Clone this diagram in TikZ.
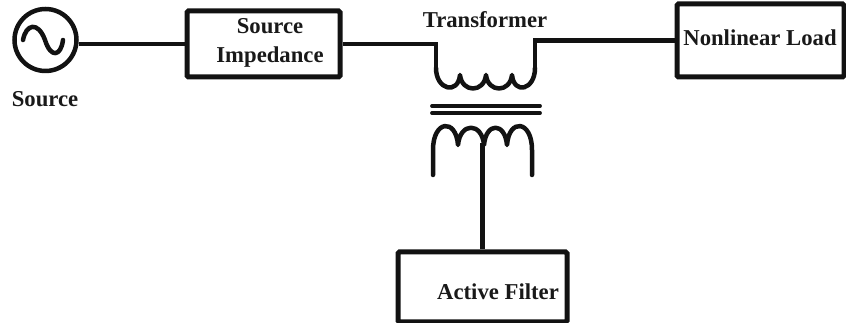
\documentclass[tikz,border=0pt]{standalone}
\usepackage{fontspec}
\setmainfont{Liberation Serif}
\usetikzlibrary{shapes,arrows}
\tikzset{
  wire/.style={line width=4.5pt,color=black!93},
  coil/.style={line width=4.5pt,color=black!93,line cap=round,line join=round},
  corebar/.style={line width=3.8pt,color=black!93,line cap=round},
  blockbox/.style={draw=black!93,line width=5pt,rounded corners=1.5pt,inner sep=0pt},
  labeltext/.style={font=\fontsize{22.7}{29}\selectfont\bfseries,color=black!90,inner sep=0pt,align=center}
}
\begin{document}
\begin{tikzpicture}
\useasboundingbox (0pt,0pt) rectangle (846pt,323pt);

% to draw blocks
\node [circle,draw=black!93,line width=4.5pt,inner sep=0pt,minimum size=62pt] (source) at (45.5pt,283pt) {};
\node [blockbox,minimum width=153pt,minimum height=66pt] (impedance) at (263.5pt,279pt) {};
\node [blockbox,minimum width=167pt,minimum height=73pt] (load) at (760.5pt,282.5pt) {};
\node [blockbox,minimum width=169pt,minimum height=70pt] (filter) at (482.5pt,36pt) {};

% to write labels
\node [labeltext] (sourcelabel) at (45pt,224pt) {Source};
\node [labeltext] (impedancelabel) at (270pt,280pt) {Source\\Impedance};
\node [labeltext] (transformerlabel) at (485pt,303pt) {Transformer};
\node [labeltext] (loadlabel) at (760pt,285pt) {Nonlinear Load};
\node [labeltext] (filterlabel) at (498pt,31pt) {Active Filter};

% to draw sine in source
\draw [coil] (23pt,283pt) .. controls (26pt,299pt) and (38pt,302pt) .. (45pt,283pt)
  .. controls (51pt,264pt) and (61pt,267pt) .. (63pt,283pt);

% transformer coil ends
\coordinate (priL) at (436pt,255pt);
\coordinate (priR) at (535pt,255pt);
\coordinate (secL) at (433pt,148pt);
\coordinate (secR) at (532pt,148pt);
\coordinate (secM) at (482.5pt,180pt);

% primary winding
\draw [coil] (priL) .. controls (436pt,233pt) and (458pt,228pt) .. (460pt,248pt)
  .. controls (462pt,230pt) and (484pt,230pt) .. (486pt,248pt)
  .. controls (488pt,230pt) and (510pt,230pt) .. (512pt,248pt)
  .. controls (514pt,228pt) and (535pt,233pt) .. (priR);

% core
\draw [corebar] (432pt,217pt) -- (540pt,217pt);
\draw [corebar] (432pt,210pt) -- (540pt,210pt);

% secondary winding
\draw [coil] (secL) -- (433pt,173pt) .. controls (433pt,203pt) and (456pt,205pt) .. (458pt,178pt)
  .. controls (460pt,201pt) and (482pt,201pt) .. (484pt,178pt)
  .. controls (486pt,201pt) and (505pt,201pt) .. (507pt,178pt)
  .. controls (509pt,205pt) and (532pt,203pt) .. (532pt,173pt) -- (secR);

% to draw wires
\draw [wire] (impedance.west) -- (impedance.west -| source.east);
\draw [wire] (impedance.east) -| (priL);
\draw [wire] (load.west) -| (priR);
\draw [wire] (secM) -- (filter.north);
\end{tikzpicture}
\end{document}
